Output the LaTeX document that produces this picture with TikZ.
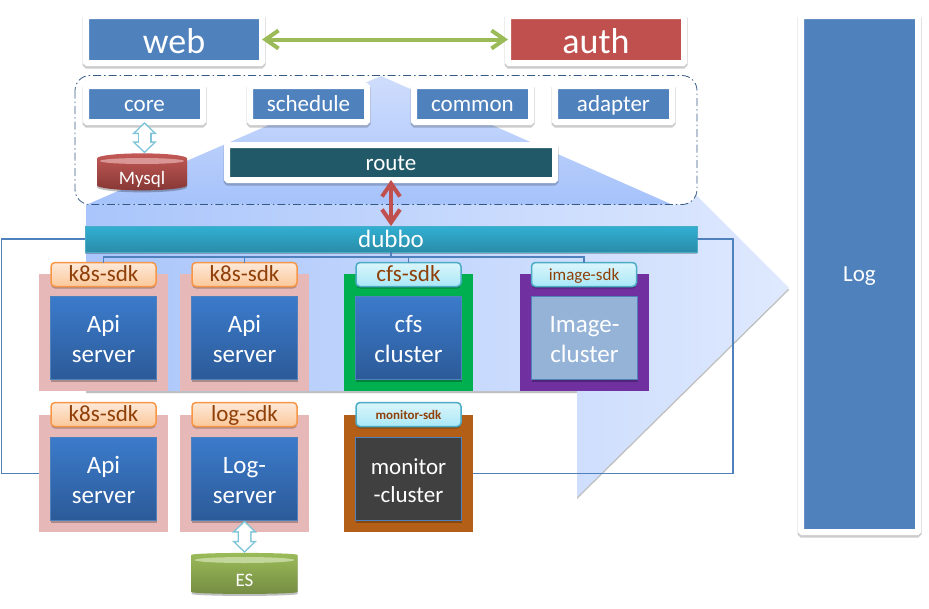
\documentclass[tikz,border=0pt]{standalone}
\usepackage{fontspec}
\setmainfont{Carlito}
\usepackage{xcolor}
\usepackage{tikz}
\usetikzlibrary{arrows.meta,shadows,shapes.geometric}
\definecolor{boxblue}{HTML}{4F81BD}
\definecolor{authred}{HTML}{C0504D}
\definecolor{routeteal}{HTML}{215968}
\definecolor{pinkpanel}{HTML}{E6B9B8}
\definecolor{brownpanel}{HTML}{B45F17}
\definecolor{cfsgreen}{HTML}{00B050}
\definecolor{imagepurple}{HTML}{7030A0}
\definecolor{sdktext}{HTML}{8F3F08}
\definecolor{linkgreen}{HTML}{9BBB59}
\definecolor{hollowedge}{HTML}{7FC4D9}
\definecolor{sdkedge}{HTML}{F79646}
\definecolor{sdktop}{HTML}{FDE9D9}
\definecolor{sdkbottom}{HTML}{FBC89A}
\definecolor{cyanedge}{HTML}{4BACC6}
\definecolor{cyantop}{HTML}{DBF5FB}
\definecolor{cyanbottom}{HTML}{A9E8F7}
\definecolor{servertop}{HTML}{3B7BCB}
\definecolor{serverbottom}{HTML}{2C5A98}
\definecolor{paleleft}{HTML}{A9C5FB}
\definecolor{paleright}{HTML}{DFE9FE}
\definecolor{peaktop}{HTML}{CFDDFC}
\definecolor{peakbottom}{HTML}{A5C2FB}
\definecolor{dubbotop}{HTML}{31B0D3}
\definecolor{dubbobottom}{HTML}{2A8CA8}
\newcommand{\topstrut}{\rule{0pt}{20pt}}
\tikzset{>=stealth,
  softshadow/.style={drop shadow={shadow xshift=0pt,shadow yshift=-2pt,fill=black,opacity=.25}},
  framebox/.style={rectangle,fill=boxblue,draw=white,line width=6pt,rounded corners=1pt,text=white,inner sep=0pt,outer sep=0pt,text depth=0pt,text height=15.4pt,font=\fontsize{23}{25}\selectfont,
    drop shadow={shadow xshift=0pt,shadow yshift=-2pt,fill=black,draw=black,line width=7pt,opacity=.2}},
  smallbox/.style={framebox,minimum width=117pt,minimum height=36pt},
  bigbox/.style={framebox,minimum width=176pt,minimum height=47pt,text height=27pt,font=\fontsize{36}{38}\selectfont},
  panel/.style={rectangle,minimum width=129pt,minimum height=117pt,inner sep=0pt,outer sep=0pt},
  orangesdk/.style={rectangle,rounded corners=4pt,draw=sdkedge,line width=1.5pt,top color=sdktop,bottom color=sdkbottom,minimum width=105pt,minimum height=24pt,inner sep=0pt,outer sep=0pt,text=sdktext,text depth=0pt,text height=14.4pt,font=\fontsize{23}{25}\selectfont,softshadow},
  cyansdk/.style={orangesdk,draw=cyanedge,top color=cyantop,bottom color=cyanbottom},
  server/.style={rectangle,draw=boxblue,line width=1.5pt,top color=servertop,bottom color=serverbottom,minimum width=106pt,minimum height=83pt,inner sep=0pt,outer sep=0pt,text=white,align=center,font=\fontsize{25}{30}\selectfont,softshadow},
  disk/.style={cylinder,shape border rotate=90,shape aspect=.22,minimum width=90pt,minimum height=37pt,inner sep=0pt,outer sep=0pt,text=white,text depth=0pt,text height=19pt,font=\fontsize{19}{21}\selectfont,softshadow},
  hollowarrow/.style={line width=1.4pt,draw=none,preaction={draw=hollowedge,line width=14pt,{Triangle[length=12pt,width=24pt]}-{Triangle[length=12pt,width=24pt]}},postaction={draw=white,line width=11pt,{Triangle[length=8.4pt,width=17pt]}-{Triangle[length=8.4pt,width=17pt]},shorten <=2.1pt,shorten >=2.1pt}},
  barbarrow/.style={{Straight Barb[length=13pt,width=18pt]}-{Straight Barb[length=13pt,width=18pt]},line width=4pt},
  busline/.style={draw=boxblue,line width=1.5pt}
}
\begin{document}
\begin{tikzpicture}[x=1pt,y=-1pt]
  \useasboundingbox (0,0) rectangle (929,608);

  % Big pale arrow behind everything
  \path[left color=paleleft,right color=paleright,softshadow]
    (86,203) -- (577,203) -- (577,76) -- (789,288) -- (577,497) -- (577,391) -- (86,391) -- cycle;

  % Rounded area with the services
  \fill[white,rounded corners=15pt] (75,75.5) rectangle (697,204.5);
  \begin{scope}
    \clip[rounded corners=15pt] (75,75.5) rectangle (697,204.5);
    \path[top color=peaktop,bottom color=peakbottom] (381,76) -- (673,205) -- (86,205) -- cycle;
  \end{scope}
  \draw[boxblue!70!black,line width=.8pt,dash pattern=on 8pt off 3pt on 1.5pt off 3pt,rounded corners=15pt] (75,75.5) rectangle (697,204.5);

  % Web and auth
  \node[bigbox] (web) at (174,39.5) {web};
  \node[bigbox,fill=authred] (auth) at (596,39.5) {auth};
  \draw[barbarrow,draw=linkgreen] (web) -- (auth);

  % Services
  \node[smallbox] (core) at (144.5,104) {core};
  \node[smallbox] (schedule) at (308.5,104) {schedule};
  \node[smallbox] (common) at (472.5,104) {common};
  \node[smallbox] (adapter) at (613.5,104) {adapter};
  \node[framebox,fill=routeteal,minimum width=328pt,minimum height=35pt] (route) at (391,162.5) {route};

  % Mysql
  \node[disk,top color=authred!95!white,bottom color=authred!70!black] (mysql) at (142,174.5) {Mysql};
  \node[ellipse,fill=authred!60!white,minimum width=84pt,minimum height=6pt,inner sep=0pt] (mysqllid) at (142,161) {};
  \draw[hollowarrow] (core.south) -- (core.south |- mysql.north);

  % Log
  \node[framebox,minimum width=117pt,minimum height=516pt] (log) at (859.5,274) {Log};

  % Dubbo bar
  \node[rectangle,draw=cyanedge,line width=1pt,top color=dubbotop,bottom color=dubbobottom,minimum width=612pt,minimum height=26pt,inner sep=0pt,outer sep=0pt,text=white,text depth=0pt,text height=16.6pt,font=\fontsize{25}{27}\selectfont,softshadow] (dubbo) at (391,239) {dubbo};
  \draw[barbarrow,draw=authred] (route.south) -- (dubbo.north);

  % Panels upper row
  \node[panel,fill=pinkpanel] (apiA) at (103.5,332.5) {};
  \node[panel,fill=pinkpanel] (apiB) at (244.5,332.5) {};
  \node[panel,fill=cfsgreen] (cfs) at (408.5,332.5) {};
  \node[panel,fill=imagepurple] (image) at (584.5,332.5) {};

  % Panels lower row
  \node[panel,fill=pinkpanel] (apiC) at (103.5,473.5) {};
  \node[panel,fill=pinkpanel] (logs) at (244.5,473.5) {};
  \node[panel,fill=brownpanel] (monitor) at (408.5,473.5) {};

  % Servers
  \node[server] (serverA) at (103.5,338) {\topstrut Api\\server};
  \node[server] (serverB) at (244.5,338) {\topstrut Api\\server};
  \node[server] (clusterC) at (408.5,338) {\topstrut cfs\\cluster};
  \node[server,top color=boxblue!60!white,bottom color=boxblue!60!white] (clusterI) at (584.5,338) {\topstrut Image-\\cluster};
  \node[server] (serverD) at (103.5,479) {\topstrut Api\\server};
  \node[server] (serverL) at (244.5,479) {\topstrut Log-\\server};
  \node[server,top color=black!75,bottom color=black!75,font=\fontsize{23}{28}\selectfont] (clusterM) at (408.5,479) {\topstrut monitor\\-cluster};

  % Sdk labels
  \node[orangesdk] (sdkA) at (103.5,274.5) {k8s-sdk};
  \node[orangesdk] (sdkB) at (244.5,274.5) {k8s-sdk};
  \node[cyansdk] (sdkC) at (408.5,274.5) {cfs-sdk};
  \node[cyansdk,text height=12.4pt,font=\fontsize{17}{19}\selectfont] (sdkI) at (584,274.5) {image-sdk};
  \node[orangesdk] (sdkD) at (103.5,414.5) {k8s-sdk};
  \node[orangesdk] (sdkL) at (244.5,414.5) {log-sdk};
  \node[cyansdk,text height=9.6pt,font=\fontsize{13}{15}\selectfont\bfseries] (sdkM) at (408.5,414.5) {monitor-sdk};

  % Lines under dubbo
  \coordinate (trunk) at (391,257);
  \draw[busline] (dubbo.south) -- (trunk);
  \draw[busline] (sdkA.north) |- (trunk);
  \draw[busline] (sdkB.north) |- (trunk);
  \draw[busline] (sdkC.north) |- (trunk);
  \draw[busline] (sdkI.north) |- (trunk);

  % Lines around the panels
  \coordinate (leftrail) at (1.5,350);
  \coordinate (rightrail) at (733,350);
  \draw[busline] (dubbo.west) -| (leftrail) |- (apiC.west);
  \draw[busline] (dubbo.east) -| (rightrail) |- (monitor.east);

  % ES
  \node[disk,minimum width=106pt,minimum height=41pt,text height=24pt,top color=linkgreen,bottom color=linkgreen!75!black] (es) at (244.5,574.5) {ES};
  \node[ellipse,fill=linkgreen!60!white,minimum width=100pt,minimum height=6pt,inner sep=0pt] (eslid) at (244.5,560) {};
  \draw[hollowarrow] (serverL.south) -- (es.north);
\end{tikzpicture}
\end{document}
